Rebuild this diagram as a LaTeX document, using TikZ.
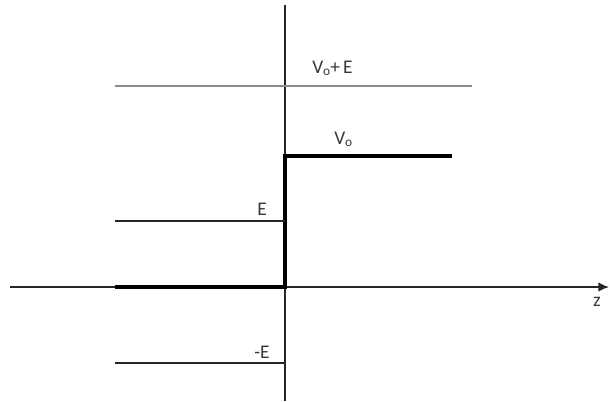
\documentclass[tikz,border=0pt]{standalone}
\usepackage{fontspec}
\setmainfont{Carlito}
\usetikzlibrary{arrows.meta}
\newcommand{\subo}{\raisebox{-0.2ex}{\fontsize{10}{11}\selectfont o}}
\begin{document}
\begin{tikzpicture}[x=0.75pt,y=-0.75pt,
  thinline/.style={line width=1pt,black!85},
  thickline/.style={line width=2.3pt,black},
  grayline/.style={line width=1.2pt,black!45},
  lbl/.style={font=\fontsize{14.5}{16}\selectfont,text=black!78,inner sep=0pt}]
\useasboundingbox (0,0) rectangle (610,401);
% axes
\coordinate (vtop) at (285,5);
\coordinate (vbot) at (285,401);
\coordinate (hleft) at (10,287);
\coordinate (hright) at (609,287);
\draw[thinline] (vtop) -- (vbot);
\draw[thinline,-{Latex[length=8pt,width=7pt]}] (hleft) -- (hright);
% gray V0+E line
\coordinate (g1) at (115,86);
\coordinate (g2) at (472,86);
\draw[grayline] (g1) -- (g2);
% step potential
\coordinate (s1) at (115,287);
\coordinate (s2) at (285,287);
\coordinate (s3) at (285,156);
\coordinate (s4) at (452,156);
\draw[thickline] (s1) -- (s2) -- (s3) -- (s4);
% E and -E levels
\coordinate (e1) at (115,221);
\coordinate (e2) at (285,221);
\coordinate (m1) at (115,363);
\coordinate (m2) at (285,363);
\draw[thinline] (e1) -- (e2);
\draw[thinline] (m1) -- (m2);
% labels
\node[lbl,anchor=west] (lVE) at (312,68) {V\subo+\,E};
\node[lbl,anchor=west] (lV) at (334,139) {V\subo};
\node[lbl] (lE) at (262,209) {E};
\node[lbl] (lmE) at (262,352) {-E};
\node[lbl] (lz) at (597,302) {z};
\end{tikzpicture}
\end{document}
